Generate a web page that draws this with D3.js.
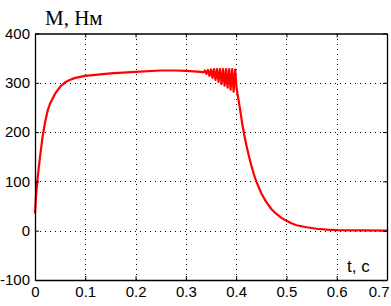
<!DOCTYPE html>
<html>
<head>
<meta charset="utf-8">
<script src="https://cdn.jsdelivr.net/npm/d3@7"></script>
<style>
  html, body { margin: 0; padding: 0; background: #fff; }
  svg { display: block; }
  .tick-label { font-family: "Liberation Sans", Arial, sans-serif; font-size: 15px; fill: #000; }
</style>
</head>
<body>
<div id="chart"></div>
<script>
// torque M (Nm) vs time t (s)
const timeVals = [0, 0.002, 0.005, 0.01, 0.015, 0.02, 0.025, 0.03, 0.04, 0.05, 0.06, 0.07, 0.08, 0.09,
  0.1, 0.12, 0.15, 0.2, 0.25, 0.28, 0.3, 0.33, 0.335,
  0.338, 0.341, 0.344, 0.347, 0.35, 0.353, 0.356, 0.359, 0.362, 0.365, 0.368, 0.371, 0.374, 0.377,
  0.38, 0.383, 0.386, 0.389, 0.392, 0.395, 0.398,
  0.401, 0.404, 0.408, 0.412, 0.416, 0.42, 0.425, 0.43, 0.435, 0.44, 0.45, 0.46, 0.47, 0.48, 0.49,
  0.5, 0.51, 0.52, 0.54, 0.56, 0.58, 0.6, 0.65, 0.7];
const torqueVals = [35, 70, 105, 150, 190, 220, 243, 258, 278, 292, 301, 306, 310, 312,
  314, 316, 319, 322, 325, 325, 324, 322, 321,
  325, 318, 326, 314, 327, 310, 328, 306, 328, 302, 328, 298, 328, 294,
  328, 290, 328, 286, 328, 282, 327,
  288, 270, 245, 218, 195, 175, 153, 133, 115, 100, 76, 58, 44, 34, 26,
  20, 15, 11, 7, 4, 2, 1, 0.5, 0];
const xTicks = [0, 0.1, 0.2, 0.3, 0.4, 0.5, 0.6, 0.7];
const yTicks = [-100, 0, 100, 200, 300, 400];

const W = 391, Ht = 306;
const m = { t: 33.5, r: 4, b: 26, l: 35 };
const svg = d3.select("#chart").append("svg").attr("width", W).attr("height", Ht);

const x = d3.scaleLinear().domain([0, 0.7]).range([m.l, W - m.r]);
const y = d3.scaleLinear().domain([-100, 400]).range([Ht - m.b, m.t]);

// dotted grid
const grid = svg.append("g").attr("stroke", "#000").attr("stroke-width", 1)
  .attr("stroke-dasharray", "1,4").attr("shape-rendering", "crispEdges");
grid.selectAll(".gx").data(xTicks.slice(1, -1)).join("line")
  .attr("x1", d => Math.round(x(d)) + 0.5).attr("x2", d => Math.round(x(d)) + 0.5)
  .attr("y1", m.t).attr("y2", Ht - m.b);
grid.selectAll(".gy").data(yTicks.slice(1, -1)).join("line")
  .attr("y1", d => Math.round(y(d)) + 0.5).attr("y2", d => Math.round(y(d)) + 0.5)
  .attr("x1", m.l).attr("x2", W - m.r);

// curve
const line = d3.line().x((d, i) => x(timeVals[i])).y(d => y(d));
svg.append("path").datum(torqueVals)
  .attr("fill", "none").attr("stroke", "#f00").attr("stroke-width", 2.2)
  .attr("stroke-linejoin", "round").attr("d", line);

// frame with inward ticks on all sides
const plain = d => String(d); // hyphen minus, like the original
const axes = svg.append("g");
axes.append("g").attr("transform", `translate(0,${Ht - m.b})`)
  .call(d3.axisBottom(x).tickValues(xTicks).tickSizeInner(-4).tickSizeOuter(0).tickPadding(6)
    .tickFormat(plain));
axes.append("g").attr("transform", `translate(${m.l},0)`)
  .call(d3.axisLeft(y).tickValues(yTicks).tickSizeInner(-4).tickSizeOuter(0).tickPadding(5)
    .tickFormat(plain));
axes.append("g").attr("transform", `translate(0,${m.t})`)
  .call(d3.axisTop(x).tickValues(xTicks).tickSizeInner(-4).tickSizeOuter(0).tickFormat(""));
axes.append("g").attr("transform", `translate(${W - m.r},0)`)
  .call(d3.axisRight(y).tickValues(yTicks).tickSizeInner(-4).tickSizeOuter(0).tickFormat(""));
axes.selectAll(".domain").attr("stroke", "#000").attr("stroke-width", 1.3);
axes.selectAll(".tick line").attr("stroke", "#000");
axes.selectAll(".tick text").attr("class", "tick-label").attr("font-family", null).attr("font-size", null);
// last x label pulled inside the frame, as in the original
axes.selectAll(".tick text").filter(d => d === 0.7).attr("text-anchor", "end").attr("dx", 2);

// labels
svg.append("text").attr("x", 45).attr("y", 25)
  .attr("font-family", "'Liberation Serif', 'Times New Roman', serif").attr("font-size", 21)
  .text("M, Нм");
svg.append("text").attr("x", 347).attr("y", 272)
  .attr("font-family", "'Liberation Sans', Arial, sans-serif").attr("font-size", 17)
  .text("t, с");
</script>
</body>
</html>
